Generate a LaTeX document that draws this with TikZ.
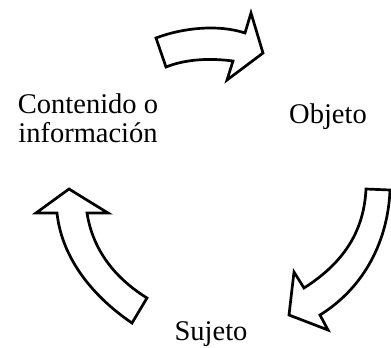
\documentclass[tikz,border=0pt]{standalone}
\usepackage{fontspec}
\setmainfont{Liberation Serif}
\begin{document}
\begin{tikzpicture}[x=1pt,y=-1pt,
  blockarrow/.style={draw=black,fill=white,line width=2.7pt,line join=miter},
  label/.style={font=\fontsize{28.5}{29}\selectfont,inner sep=0pt,anchor=base,align=center}]
\useasboundingbox (0,0) rectangle (391,348);
% top arrow
\draw[blockarrow] (156,38) .. controls (182,28) and (218,24) .. (245,33) -- (251,13) -- (263,53) -- (227,80) -- (233,61)
  .. controls (210,58) and (186,59) .. (166,67) -- cycle;
% right arrow
\draw[blockarrow] (366,189) -- (390,190) .. controls (388,240) and (365,287) .. (320,315) -- (328,330) -- (289,315) -- (294,272) -- (304,288)
  .. controls (345,262) and (364,230) .. (366,189) -- cycle;
% left arrow
\draw[blockarrow] (69,189) -- (108,213) -- (87,213) .. controls (92,245) and (110,275) .. (147,298) -- (132,323)
  .. controls (95,298) and (62,260) .. (57,213) -- (36,213) -- cycle;
\node[label] (info) at (88,142) {Contenido o\\información};
\node[label] (obj) at (328,123) {Objeto};
\node[label] (suj) at (211,340) {Sujeto};
\end{tikzpicture}
\end{document}
